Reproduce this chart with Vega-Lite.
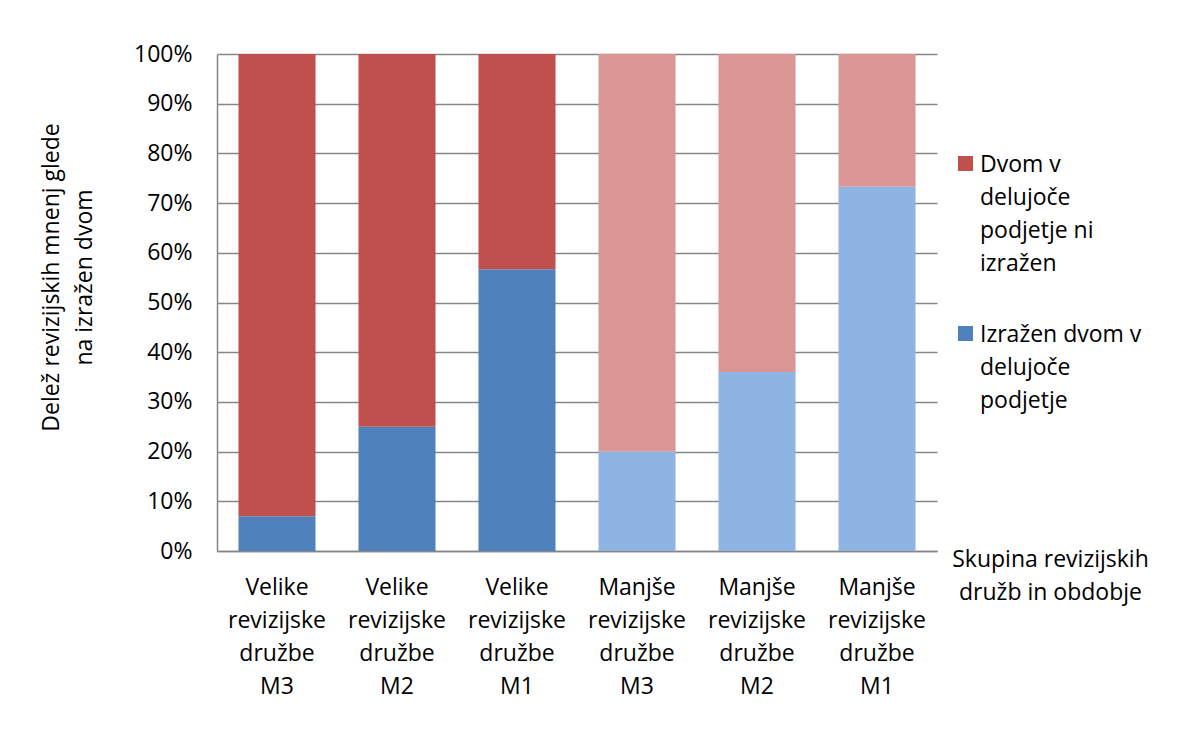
{
  "$schema": "https://vega.github.io/schema/vega-lite/v6.json",
  "width": 720,
  "height": 497,
  "autosize": "none",
  "padding": {"left": 217, "top": 54, "right": 246, "bottom": 187},
  "background": "white",
  "config": {
    "font": "Open Sans",
    "view": {"stroke": null},
    "style": {"guide-label": {"lineHeight": 33}}
  },
  "data": {
    "values": [
      {"skupina": "Velike revizijske družbe M3", "serija": "Izražen dvom v delujoče podjetje", "odtenek": "Izražen dvom v delujoče podjetje", "red": 1, "delez": 7.0},
      {"skupina": "Velike revizijske družbe M3", "serija": "Dvom v delujoče podjetje ni izražen", "odtenek": "Dvom v delujoče podjetje ni izražen", "red": 2, "delez": 93.0},
      {"skupina": "Velike revizijske družbe M2", "serija": "Izražen dvom v delujoče podjetje", "odtenek": "Izražen dvom v delujoče podjetje", "red": 1, "delez": 25.0},
      {"skupina": "Velike revizijske družbe M2", "serija": "Dvom v delujoče podjetje ni izražen", "odtenek": "Dvom v delujoče podjetje ni izražen", "red": 2, "delez": 75.0},
      {"skupina": "Velike revizijske družbe M1", "serija": "Izražen dvom v delujoče podjetje", "odtenek": "Izražen dvom v delujoče podjetje", "red": 1, "delez": 56.7},
      {"skupina": "Velike revizijske družbe M1", "serija": "Dvom v delujoče podjetje ni izražen", "odtenek": "Dvom v delujoče podjetje ni izražen", "red": 2, "delez": 43.3},
      {"skupina": "Manjše revizijske družbe M3", "serija": "Izražen dvom v delujoče podjetje", "odtenek": "Izražen dvom (manjše)", "red": 1, "delez": 20.0},
      {"skupina": "Manjše revizijske družbe M3", "serija": "Dvom v delujoče podjetje ni izražen", "odtenek": "Dvom ni izražen (manjše)", "red": 2, "delez": 80.0},
      {"skupina": "Manjše revizijske družbe M2", "serija": "Izražen dvom v delujoče podjetje", "odtenek": "Izražen dvom (manjše)", "red": 1, "delez": 36.0},
      {"skupina": "Manjše revizijske družbe M2", "serija": "Dvom v delujoče podjetje ni izražen", "odtenek": "Dvom ni izražen (manjše)", "red": 2, "delez": 64.0},
      {"skupina": "Manjše revizijske družbe M1", "serija": "Izražen dvom v delujoče podjetje", "odtenek": "Izražen dvom (manjše)", "red": 1, "delez": 73.3},
      {"skupina": "Manjše revizijske družbe M1", "serija": "Dvom v delujoče podjetje ni izražen", "odtenek": "Dvom ni izražen (manjše)", "red": 2, "delez": 26.7}
    ]
  },
  "mark": {"type": "bar"},
  "encoding": {
    "x": {
      "field": "skupina",
      "type": "nominal",
      "sort": null,
      "scale": {"paddingInner": 0.358, "paddingOuter": 0.179},
      "axis": {
        "labelExpr": "split(datum.label, ' ')",
        "labelAngle": 0,
        "labelFontSize": 23,
        "labelColor": "#000000",
        "labelPadding": 43,
        "labelBaseline": "alphabetic",
        "labelLimit": 0,
        "ticks": false,
        "domainColor": "#868686",
        "domainWidth": 1.5,
        "title": ["Skupina revizijskih", "družb in obdobje"],
        "titleX": 833,
        "titleY": 15,
        "titleAlign": "center",
        "titleBaseline": "alphabetic",
        "titleFontSize": 23,
        "titleFontWeight": "normal",
        "titleColor": "#000000",
        "titleLineHeight": 33
      }
    },
    "y": {
      "field": "delez",
      "type": "quantitative",
      "stack": "zero",
      "scale": {"domain": [0, 100]},
      "axis": {
        "values": [0, 10, 20, 30, 40, 50, 60, 70, 80, 90, 100],
        "labelExpr": "datum.value + '%'",
        "grid": true,
        "gridColor": "#868686",
        "gridWidth": 1.5,
        "ticks": false,
        "domainColor": "#868686",
        "domainWidth": 1.5,
        "labelFontSize": 23,
        "labelColor": "#000000",
        "labelPadding": 25,
        "title": ["Delež revizijskih mnenj glede", "na izražen dvom"],
        "titleAngle": -90,
        "titleX": -177,
        "titleY": 223,
        "titleAlign": "center",
        "titleBaseline": "top",
        "titleFontSize": 23,
        "titleFontWeight": "normal",
        "titleColor": "#000000",
        "titleLineHeight": 33
      }
    },
    "color": {
      "field": "odtenek",
      "type": "nominal",
      "scale": {
        "domain": ["Dvom v delujoče podjetje ni izražen", "Izražen dvom v delujoče podjetje", "Dvom ni izražen (manjše)", "Izražen dvom (manjše)"],
        "range": ["#C0504D", "#4F81BD", "#D99694", "#8EB4E3"]
      },
      "legend": {
        "values": ["Dvom v delujoče podjetje ni izražen", "Izražen dvom v delujoče podjetje"],
        "labelExpr": "datum.label == 'Dvom v delujoče podjetje ni izražen' ? ['Dvom v', 'delujoče', 'podjetje ni', 'izražen'] : ['Izražen dvom v', 'delujoče', 'podjetje']",
        "title": null,
        "orient": "none",
        "legendX": 737,
        "legendY": 98,
        "symbolType": "square",
        "symbolSize": 225,
        "symbolStrokeWidth": 0,
        "symbolOpacity": 1,
        "labelFontSize": 23,
        "labelColor": "#000000",
        "labelBaseline": "alphabetic",
        "labelOffset": 3,
        "labelLimit": 0,
        "rowPadding": 46,
        "encode": {
          "labels": {"update": {"dy": {"value": 8}}}
        }
      }
    },
    "order": {"field": "red", "type": "quantitative"}
  }
}
